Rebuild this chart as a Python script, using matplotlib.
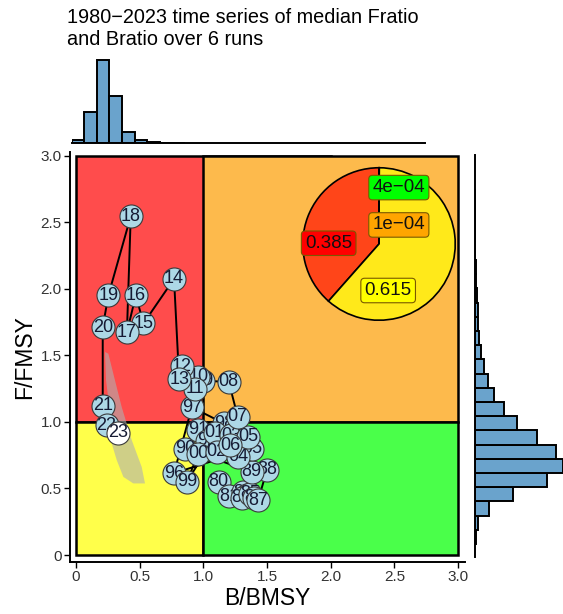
import numpy as np
import matplotlib
matplotlib.use("Agg")
from matplotlib import pyplot as plt
from matplotlib.patches import Rectangle, Polygon

plt.rcParams['font.family'] = ['Liberation Sans', 'DejaVu Sans']

# trajectory of medians, 1980-2023
years = ["80", "81", "82", "83", "84", "85", "86", "87", "88", "89",
         "90", "91", "92", "93", "94", "95", "96", "97", "98", "99",
         "00", "01", "02", "03", "04", "05", "06", "07", "08", "09",
         "10", "11", "12", "13", "14", "15", "16", "17", "18", "19",
         "20", "21", "22", "23"]
bratio = [1.12, 1.20, 1.31, 1.34, 1.30, 1.37, 1.40, 1.43, 1.50, 1.38,
          0.86, 0.96, 1.03, 1.15, 1.28, 1.38, 0.77, 0.91, 1.16, 0.87,
          0.96, 1.09, 1.105, 1.22, 1.275, 1.35, 1.21, 1.27, 1.20, 1.00,
          0.96, 0.935, 0.83, 0.81, 0.77, 0.53, 0.47, 0.40, 0.43, 0.254,
          0.21, 0.21, 0.24, 0.33]
fratio = [0.55, 0.44, 0.47, 0.45, 0.43, 0.46, 0.43, 0.41, 0.64, 0.625,
          0.80, 0.94, 0.86, 0.84, 0.80, 0.80, 0.615, 1.11, 0.99, 0.55,
          0.76, 0.92, 0.775, 0.90, 0.74, 0.89, 0.825, 1.04, 1.30, 1.31,
          1.34, 1.25, 1.42, 1.32, 2.075, 1.74, 1.95, 1.675, 2.545, 1.95,
          1.71, 1.12, 0.975, 0.92]

# uncertainty region of the final year
region_b = [0.228, 0.236, 0.262, 0.273, 0.320, 0.372, 0.450,
            0.542, 0.516, 0.438, 0.359, 0.306, 0.254]
region_f = [1.525, 1.313, 1.112, 0.863, 0.713, 0.587, 0.538,
            0.538, 0.662, 0.863, 1.112, 1.313, 1.513]

# marginal histograms
b_bin_start, b_bin_w = -0.034, 0.0987
b_counts = [3.3, 30.7, 81.3, 46.7, 11.3, 3.3, 1.3, 0.7, 0.5]
f_bin_start, f_bin_w = 0.083, 0.1065
f_counts = [0.7, 3.3, 14.3, 38.3, 72.3, 87.7, 81, 61.7, 42.3, 29.3,
            19, 13.3, 9, 5.7, 4.3, 3.3, 2.7, 1.7, 1.0, 0.6, 0.4, 0.3, 0.2,
            0.15, 0.1]

# pie of quadrant probabilities
pie_vals = [0.385, 0.615, 0.0001, 0.0004]
pie_cols = ["#FF4519", "#FFE91A", "#FFA500", "#00EE00"]
pie_labels = ["0.385", "0.615", "1e\u221204", "4e\u221204"]
label_fill = ["#FF0000", "#FFFF00", "#FFA500", "#00FF00"]
label_pos = [(-0.66, 0.01), (0.12, -0.61), (0.26, 0.25), (0.26, 0.74)]

W, H = 563, 614
fig = plt.figure(figsize=(W / 100, H / 100), dpi=100)

def px_axes(l, t, r, b):
    return fig.add_axes([l / W, 1 - b / H, (r - l) / W, (b - t) / H])

# main kobe panel
ax = px_axes(70, 151.7, 465, 561.7)
ax.set_xlim(-0.047, 3.055)
ax.set_ylim(-0.05, 3.03)
quads = [((0, 1), 2, 2, "#FF4C4C"), ((1, 1), 2, 2, "#FDBA4C"),
         ((0, 0), 1, 1, "#FFFF4A"), ((1, 0), 2, 1, "#4AFF4A")]
for xy, w, h, c in quads:
    ax.add_patch(Rectangle(xy, w, h, fc=c, ec="black", lw=1.8, zorder=1))
ax.add_patch(Polygon(np.column_stack([region_b, region_f]), closed=True,
                     fc="#B0B0B0", ec="none", alpha=0.6, zorder=2))
ax.plot(bratio, fratio, color="black", lw=1.4, zorder=3)
for i, (yr, b, f) in enumerate(zip(years, bratio, fratio)):
    fc = "white" if i == len(years) - 1 else "#ADD8E6"
    ax.scatter([b], [f], s=275, c=fc, edgecolors="#3a3a3a", linewidths=0.8,
               zorder=10 + 2 * i)
    ax.text(b, f, yr, ha="center", va="center", fontsize=13,
            color="#151a33", zorder=11 + 2 * i)

for s in ["top", "right"]:
    ax.spines[s].set_visible(False)
ax.spines["left"].set_linewidth(1.4)
ax.spines["bottom"].set_linewidth(1.4)
ticks = [0, 0.5, 1.0, 1.5, 2.0, 2.5, 3.0]
ticklab = ["0", "0.5", "1.0", "1.5", "2.0", "2.5", "3.0"]
ax.set_xticks(ticks)
ax.set_xticklabels(ticklab)
ax.set_yticks(ticks)
ax.set_yticklabels(ticklab)
ax.tick_params(length=4, width=1, labelsize=11, labelcolor="#333333", pad=2)
ax.set_xlabel("B/BMSY", fontsize=16.5, labelpad=2)
ax.set_ylabel("F/FMSY", fontsize=16.5, labelpad=3)

# top marginal histogram
axt = px_axes(71.7, 58, 425, 143.3)
edges_b = b_bin_start + b_bin_w * np.arange(len(b_counts))
axt.bar(edges_b, b_counts, width=b_bin_w, align="edge", color="#6AA3CC",
        edgecolor="black", linewidth=1.4)
axt.set_xlim(-0.034, 2.74)
axt.set_ylim(0, 83.5)
axt.set_xticks([])
axt.set_yticks([])
for s in ["top", "right", "left"]:
    axt.spines[s].set_visible(False)
axt.spines["bottom"].set_linewidth(1.4)
axt.patch.set_alpha(0)

# right marginal histogram
axr = px_axes(475, 155, 563, 556.7)
edges_f = f_bin_start + f_bin_w * np.arange(len(f_counts))
axr.barh(edges_f, f_counts, height=f_bin_w, align="edge", color="#6AA3CC",
         edgecolor="black", linewidth=1.4)
axr.set_ylim(-0.013, 3.0)
axr.set_xlim(0, 88)
axr.set_xticks([])
axr.set_yticks([])
for s in ["top", "right", "bottom"]:
    axr.spines[s].set_visible(False)
axr.spines["left"].set_linewidth(1.4)
axr.patch.set_alpha(0)

# pie inset
axp = px_axes(302, 167, 456, 321)
axp.pie(pie_vals, colors=pie_cols, startangle=90, counterclock=True,
        radius=1, wedgeprops=dict(edgecolor="black", linewidth=1.2))
axp.set_xlim(-1.01, 1.01)
axp.set_ylim(-1.01, 1.01)
for lab, fc, (lx, ly) in zip(pie_labels, label_fill, label_pos):
    axp.text(lx, ly, lab, ha="center", va="center", fontsize=13.5,
             color="#111111",
             bbox=dict(boxstyle="round,pad=0.2,rounding_size=0.2", fc=fc,
                       ec="#7a5a00", lw=0.8))

fig.text(66.7 / W, 1 - 8 / H,
         "1980\u22122023 time series of median Fratio\nand Bratio over 6 runs",
         ha="left", va="top", fontsize=14.3, linespacing=1.2)

plt.savefig("out.png", dpi=100)
